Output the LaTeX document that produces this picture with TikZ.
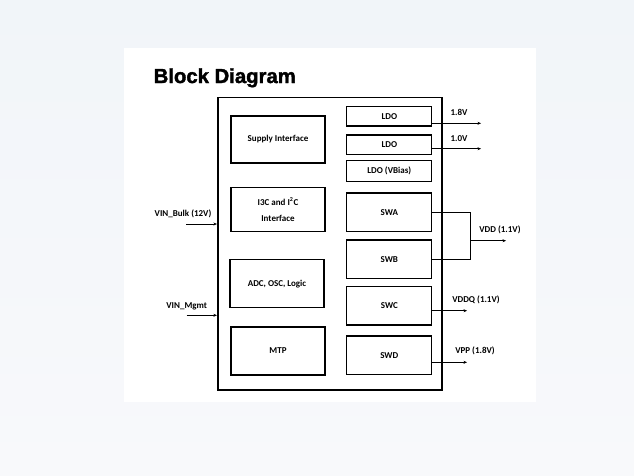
\documentclass[tikz,border=0pt]{standalone}
\usepackage{fontspec}
\setmainfont{Carlito}
\newfontfamily\titlefont[BoldFeatures={FakeBold=1.8}]{Liberation Sans}
\usetikzlibrary{calc,positioning}
\usetikzlibrary{arrows.meta}
\definecolor{bgtop}{HTML}{F1F5F9}
\definecolor{bgbot}{HTML}{F8F9FB}
\tikzset{
blk/.style={draw,line width=1.2pt,font=\bfseries\fontsize{9}{10}\selectfont,align=center,inner sep=0pt},
lblk/.style={blk,minimum width=94pt},
rblk/.style={blk,minimum width=85pt},
wire/.style={line width=0.5pt},
arr/.style={wire,-{Stealth[length=3.5pt,width=3pt]}},
pin/.style={font=\bfseries\fontsize{9}{10}\selectfont,inner sep=0pt}
}
\begin{document}
\begin{tikzpicture}[x=1pt,y=-1pt]
\useasboundingbox (0,0) rectangle (634,475);
\shade[top color=bgtop,bottom color=bgbot] (0,0) rectangle (634,475);
\fill[white] (124,48) rectangle (536,402);
\node[anchor=base west,inner sep=0pt,font=\titlefont\bfseries\fontsize{20.3}{23}\selectfont] (title) at (153.5,83){Block Diagram};
% chip outline
\node[draw,line width=1.6pt,minimum width=224pt,minimum height=292.7pt,inner sep=0pt] (chip) at (329.7,243.7){};
% left column
\node[lblk,minimum height=47pt] (sup) at (278,139.5){Supply Interface};
\node[lblk,minimum height=44pt] (iic) at (278,209.7){I3C and I\textsuperscript{2}C\\[6pt]Interface};
\node[lblk,minimum height=48pt] (adc) at (277,283.7){ADC, OSC, Logic};
\node[lblk,minimum height=48pt] (mtp) at (278,351){MTP};
% right column
\node[rblk,minimum height=19.7pt] (ldoa) at (389.3,116.2){LDO};
\node[rblk,minimum height=19.3pt] (ldob) at (389.3,144.7){LDO};
\node[rblk,minimum height=21.4pt] (ldoc) at (389.3,171){LDO (VBias)};
\node[rblk,minimum height=38.7pt] (swa) at (389.3,212.3){SWA};
\node[rblk,minimum height=38.7pt] (swb) at (389.3,259.3){SWB};
\node[rblk,minimum height=38.3pt] (swc) at (389.3,305.8){SWC};
\node[rblk,minimum height=38.7pt] (swd) at (389.3,355.3){SWD};
% outputs
\coordinate (oa) at (481,123.3);\coordinate (ob) at (481,148.7);
\coordinate (vj) at (470,240.7);\coordinate (ovdd) at (506,240.7);
\coordinate (oc) at (467,310.7);\coordinate (od) at (467,362.3);
\draw[arr] (ldoa.east |- oa)--(oa);\draw[arr] (ldob.east |- ob)--(ob);
\draw[wire] (swa.east)-|(vj) (swb.east)-|(vj);\draw[arr] (vj)--(ovdd);
\draw[arr] (swc.east |- oc)--(oc);\draw[arr] (swd.east |- od)--(od);
\node[pin] (l18) at (459,112.7){1.8V};\node[pin] (l10) at (459,139){1.0V};
\node[pin] (lvdd) at (500,230){VDD (1.1V)};
\node[pin] (lvddq) at (476,300){VDDQ (1.1V)};
\node[pin] (lvpp) at (475,350.7){VPP (1.8V)};
% inputs
\coordinate (ia) at (186,224);\coordinate (ib) at (186.7,315.3);
\draw[arr] (ia)--(chip.west |- ia);\draw[arr] (ib)--(chip.west |- ib);
\node[pin] (lbulk) at (183,214){VIN\_Bulk (12V)};
\node[pin] (lmgmt) at (186.7,306){VIN\_Mgmt};
\end{tikzpicture}
\end{document}
